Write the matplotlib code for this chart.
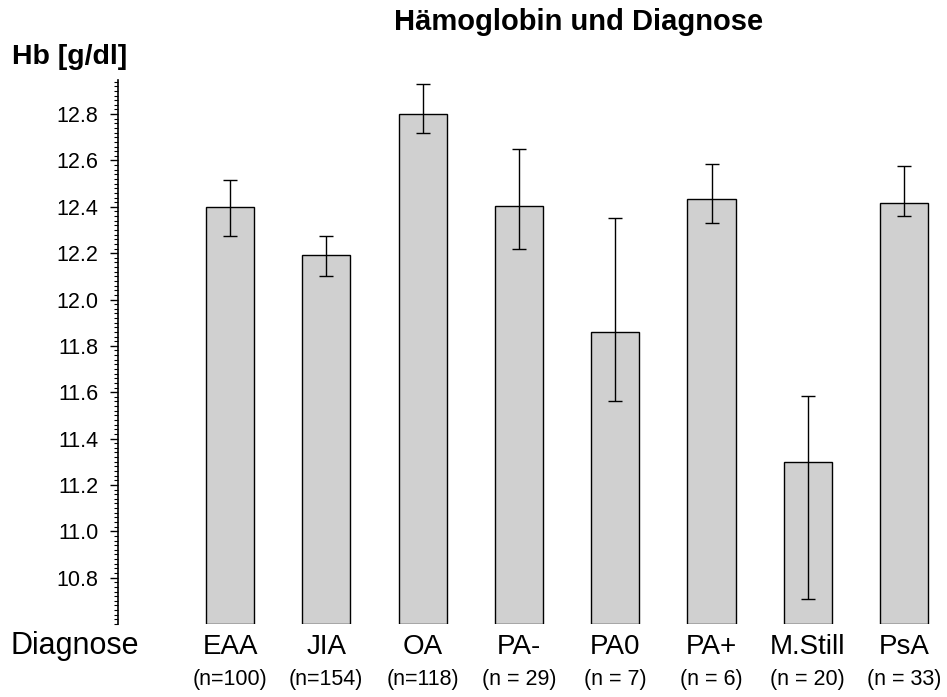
import matplotlib.pyplot as plt
import numpy as np
from matplotlib.ticker import MultipleLocator, FormatStrFormatter

plt.rcParams['font.family'] = ['Liberation Sans', 'DejaVu Sans']

# Mean Hb per diagnosis with error bar ends
diagnoses = ['EAA', 'JIA', 'OA', 'PA-', 'PA0', 'PA+', 'M.Still', 'PsA']
n_labels = ['(n=100)', '(n=154)', '(n=118)', '(n = 29)', '(n = 7)', '(n = 6)', '(n = 20)', '(n = 33)']
hb_mean = [12.40, 12.19, 12.80, 12.405, 11.86, 12.435, 11.30, 12.415]
err_low = [12.275, 12.10, 12.72, 12.22, 11.56, 12.33, 10.71, 12.36]
err_high = [12.515, 12.275, 12.93, 12.65, 12.35, 12.585, 11.585, 12.575]

ymin, ymax = 10.6, 12.947

fig = plt.figure(figsize=(9.47, 6.97), dpi=100)
ax = fig.add_axes([118 / 947, 1 - 624 / 697, 1 - 118 / 947, 544 / 697])

x = np.arange(len(diagnoses))
heights = [v - ymin for v in hb_mean]
yerr = [[m - lo for m, lo in zip(hb_mean, err_low)],
        [hi - m for m, hi in zip(hb_mean, err_high)]]

ax.bar(x, heights, bottom=ymin, width=0.5, color='#d0d0d0', edgecolor='black', linewidth=1.0)
ax.errorbar(x, hb_mean, yerr=yerr, fmt='none', ecolor='black', elinewidth=1.0, capsize=5, capthick=1.0)

ax.set_xlim(-1.163, 7.445)
ax.set_ylim(ymin, ymax)

for side in ['top', 'right', 'bottom']:
    ax.spines[side].set_visible(False)
ax.spines['left'].set_linewidth(1.2)

ax.yaxis.set_major_locator(MultipleLocator(0.2))
ax.yaxis.set_minor_locator(MultipleLocator(0.02))
ax.yaxis.set_major_formatter(FormatStrFormatter('%.1f'))
ax.tick_params(axis='y', which='major', length=6, width=1.0, labelsize=15.5, pad=8)
ax.tick_params(axis='y', which='minor', length=3, width=0.8)
ax.set_yticks([10.8, 11.0, 11.2, 11.4, 11.6, 11.8, 12.0, 12.2, 12.4, 12.6, 12.8])

ax.set_xticks(x)
ax.set_xticklabels([])
ax.tick_params(axis='x', length=0)

# category names and group sizes below the bars
for xi, name, nl in zip(x, diagnoses, n_labels):
    ax.annotate(name, xy=(xi, 0), xycoords=('data', 'axes fraction'),
                xytext=(0, -23), textcoords='offset pixels',
                ha='center', va='center', fontsize=20)
    ax.annotate(nl, xy=(xi, 0), xycoords=('data', 'axes fraction'),
                xytext=(0, -55), textcoords='offset pixels',
                ha='center', va='center', fontsize=15.5)

fig.text(10 / 947, 1 - 646 / 697, 'Diagnose', ha='left', va='center', fontsize=22)
fig.text(12 / 947, 1 - 57 / 697, 'Hb [g/dl]', ha='left', va='center', fontsize=20.5, fontweight='bold')
fig.text(579 / 947, 1 - 22 / 697, 'Hämoglobin und Diagnose', ha='center', va='center',
         fontsize=21, fontweight='bold')

fig.savefig('out.png', dpi=100)
